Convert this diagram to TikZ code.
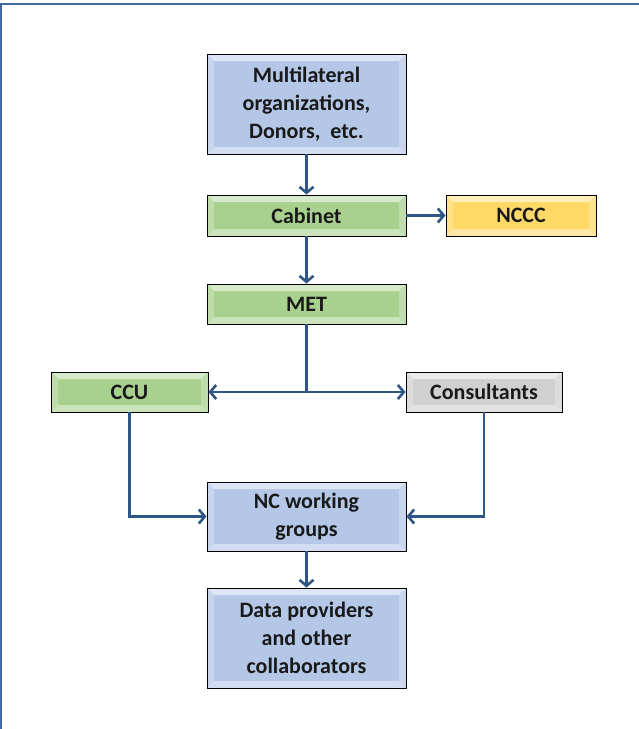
\documentclass[tikz,border=0pt]{standalone}
\usepackage{fontspec}
\setmainfont{Carlito}
\usetikzlibrary{arrows.meta}
\definecolor{bxblue}{RGB}{180,199,231}
\definecolor{bxgreen}{RGB}{169,209,142}
\definecolor{bxyellow}{RGB}{255,217,102}
\definecolor{bxgray}{RGB}{208,208,208}
\definecolor{conncol}{RGB}{46,86,134}
\definecolor{framecol}{RGB}{68,104,160}
\tikzset{
  box/.style={draw=black, line width=0.9pt, fill=#1, align=center, inner sep=0pt,
    font=\fontsize{22}{28}\selectfont\bfseries, text=black!90,
    path picture={
      \fill[#1!45!white] (path picture bounding box.north west) -- (path picture bounding box.north east)
        -- ([xshift=-7pt,yshift=-7pt]path picture bounding box.north east)
        -- ([xshift=7pt,yshift=-7pt]path picture bounding box.north west) -- cycle;
      \fill[#1!75!white] (path picture bounding box.north west) -- (path picture bounding box.south west)
        -- ([xshift=7pt,yshift=7pt]path picture bounding box.south west)
        -- ([xshift=7pt,yshift=-7pt]path picture bounding box.north west) -- cycle;
      \fill[#1!75!white] (path picture bounding box.north east) -- (path picture bounding box.south east)
        -- ([xshift=-7pt,yshift=7pt]path picture bounding box.south east)
        -- ([xshift=-7pt,yshift=-7pt]path picture bounding box.north east) -- cycle;
      \fill[#1!60!white] (path picture bounding box.south west) -- (path picture bounding box.south east)
        -- ([xshift=-7pt,yshift=7pt]path picture bounding box.south east)
        -- ([xshift=7pt,yshift=7pt]path picture bounding box.south west) -- cycle;
    }},
  line/.style={draw=conncol, line width=2.6pt},
  conn/.style={line, -{Straight Barb[length=6pt,width=14pt]}},
}
\begin{document}
\begin{tikzpicture}[x=1pt,y=-1pt]
\useasboundingbox (0,0) rectangle (639,729);
\draw[framecol, line width=1.2pt] (1,729) -- (1,4) -- (639,4);

\node[box=bxblue, minimum width=199pt, minimum height=100pt] (multi) at (306.5,104) {Multilateral\\organizations,\\Donors,~ etc.};
\node[box=bxgreen, minimum width=199pt, minimum height=41pt] (cab) at (306.5,215.5) {Cabinet};
\node[box=bxyellow, minimum width=150pt, minimum height=41pt] (nccc) at (521,215.5) {NCCC};
\node[box=bxgreen, minimum width=199pt, minimum height=40pt] (met) at (306.5,304) {MET};
\node[box=bxgreen, minimum width=157pt, minimum height=40pt] (ccu) at (129.5,392) {CCU};
\node[box=bxgray, minimum width=156pt, minimum height=40pt] (cons) at (484,392) {Consultants};
\node[box=bxblue, minimum width=199pt, minimum height=69pt] (ncw) at (306.5,516.5) {NC working\\groups};
\node[box=bxblue, minimum width=199pt, minimum height=100pt] (data) at (306.5,638) {Data providers\\and other\\collaborators};

\draw[conn] (multi.south) -- (cab.north);
\draw[conn] (cab.east) -- (nccc.west);
\draw[conn] (cab.south) -- (met.north);
\coordinate (j) at (met.south |- ccu.east);
\draw[line] (met.south) -- (j);
\draw[conn] (j) -- (ccu.east);
\draw[conn] (j) -- (cons.west);
\draw[conn] (ccu.south) |- (ncw.west);
\draw[conn] (cons.south) |- (ncw.east);
\draw[conn] (ncw.south) -- (data.north);
\end{tikzpicture}
\end{document}
